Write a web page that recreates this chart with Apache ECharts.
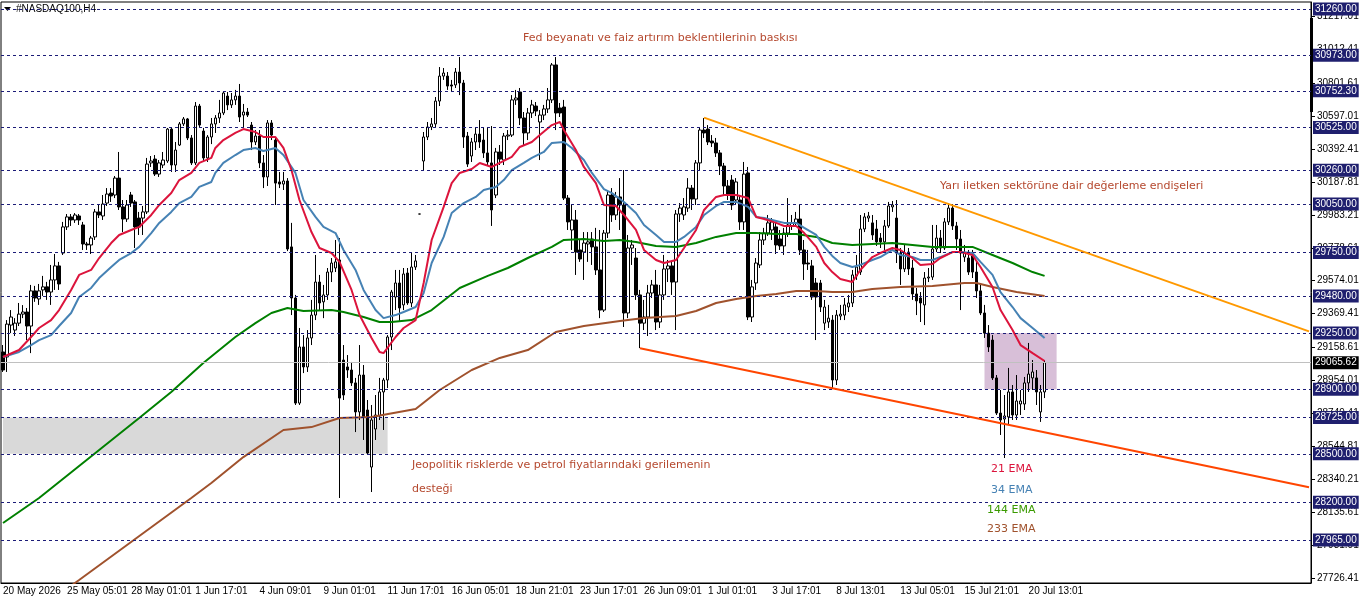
<!DOCTYPE html>
<html>
<head>
<meta charset="utf-8">
<script src="https://cdn.jsdelivr.net/npm/echarts@6/dist/echarts.min.js"></script>
<style>
html,body{margin:0;padding:0;background:#fff;}
#chart{width:1362px;height:603px;}
</style>
</head>
<body>
<div id="chart"></div>
<script>
// NASDAQ100 H4 bars: [open, close, low, high]
var candles = [
[29132,29020,29008,29175],[29101,29305,29008,29330],[29299,29349,29249,29392],[29268,29311,29231,29342],
[29311,29367,29293,29436],[29367,29380,29342,29423],[29380,29293,29206,29405],[29293,29511,29125,29548],
[29511,29467,29443,29542],[29461,29511,29424,29554],[29517,29536,29480,29604],[29536,29504,29455,29567],
[29504,29579,29424,29672],[29579,29666,29517,29740],[29666,29554,29517,29691],[29746,29908,29734,29939],
[29908,29970,29889,29988],[29970,29951,29914,29988],[29951,29982,29933,29994],[29976,29951,29920,29988],
[29920,29802,29765,29939],[29802,29796,29765,29815],[29796,29839,29740,29852],[29846,30001,29827,30019],
[30001,29982,29963,30044],[29976,30050,29951,30106],[30056,30112,30038,30149],[30118,30100,30063,30149],
[30106,30211,30087,30224],[30211,30032,30013,30373],[30032,29957,29876,30075],[29957,30044,29939,30075],
[30106,30056,30032,30125],[30063,29908,29777,30075],[29963,29908,29858,30001],[29963,30001,29858,30038],
[30001,30298,29988,30336],[30305,30317,30280,30348],[30329,30236,30224,30354],[30236,30305,30218,30323],
[30292,30323,30273,30373],[30317,30515,30305,30522],[30515,30292,30249,30522],[30292,30385,30249,30435],
[30416,30547,30410,30559],[30547,30578,30534,30590],[30578,30460,30447,30584],[30460,30305,30292,30478],
[30305,30658,30292,30683],[30658,30540,30528,30671],[30503,30336,30311,30522],[30336,30466,30311,30478],
[30466,30547,30422,30584],[30547,30584,30491,30602],[30584,30615,30553,30696],[30615,30739,30602,30751],
[30720,30665,30633,30745],[30665,30696,30646,30739],[30696,30720,30665,30758],[30720,30590,30559,30795],
[30602,30621,30528,30671],[30621,30602,30590,30646],[30540,30435,30385,30559],[30435,30472,30416,30509],
[30472,30305,30273,30509],[30305,30218,30149,30354],[30218,30553,30162,30571],[30553,30478,30447,30571],
[30447,30180,30044,30460],[30187,30174,30149,30249],[30174,30193,30137,30249],[30193,29771,29758,30211],
[29784,29467,29361,29933],[29467,28815,28803,29486],[28815,29163,28803,29281],[29163,29039,29001,29237],
[29039,29219,29008,29268],[29219,29361,29175,29455],[29361,29566,29330,29734],[29566,29436,29392,29610],
[29443,29486,29342,29548],[29486,29628,29455,29653],[29628,29684,29566,29715],[29653,29691,29628,29827],
[29703,28846,28226,29839],[29082,28865,28834,29175],[29039,29020,28971,29113],[29020,28940,28921,29070],
[28940,28760,28635,28971],[28760,28989,28710,29175],[28989,28729,28586,29051],[28772,28505,28493,28834],
[28418,28710,28263,28803],[28654,28741,28586,28865],[28735,28884,28710,28971],[28884,28958,28648,28971],
[28958,29225,28908,29237],[29225,29504,29144,29517],[29473,29560,29392,29641],[29560,29405,29318,29641],
[29424,29616,29392,29653],[29622,29436,29424,29653],[29436,29659,29411,29752],[29659,29697,29641,29734],
[29988,29988,29988,29988],[30317,30466,30255,30497],[30466,30528,30447,30559],[30528,30547,30509,30584],
[30547,30689,30528,30714],[30689,30844,30658,30900],[30844,30863,30820,30894],[30844,30782,30758,30869],
[30789,30782,30745,30820],[30789,30869,30770,30894],[30869,30801,30726,30962],[30801,30466,30398,30820],
[30472,30298,30280,30497],[30348,30435,30311,30460],[30435,30484,30385,30522],[30484,30435,30398,30571],
[30447,30367,30336,30522],[30367,30311,30292,30528],[30305,30013,29914,30534],[30106,30373,30087,30398],
[30373,30329,30292,30416],[30323,30472,30292,30491],[30472,30478,30447,30509],[30478,30696,30466,30726],
[30696,30708,30665,30758],[30745,30584,30540,30770],[30584,30491,30416,30621],[30491,30615,30447,30646],
[30615,30665,30584,30696],[30658,30627,30596,30683],[30559,30602,30323,30633],[30602,30640,30571,30665],
[30640,30696,30615,30770],[30696,30913,30677,30925],[30913,30615,30509,30962],[30646,30615,30590,30677],
[30652,30087,30075,30696],[30087,29939,29889,30106],[29889,29951,29765,30044],[29951,29752,29610,30013],
[29765,29709,29691,29827],[29752,29808,29579,29876],[29802,29815,29691,29876],[29833,29784,29672,29876],
[29784,29641,29610,29902],[29641,29392,29342,29889],[29392,29870,29380,29889],[29870,30106,29839,30137],
[30106,29982,29939,30149],[29982,30094,29951,30125],[30094,30044,29889,30211],[30044,29374,29287,30261],
[29374,29777,29342,29858],[29777,29796,29672,29827],[29715,29486,29455,29777],[29486,29311,29156,29517],
[29311,29349,29268,29455],[29349,29498,29231,29548],[29498,29548,29467,29579],[29548,29318,29268,29641],
[29318,29486,29281,29548],[29486,29647,29455,29734],[29647,29666,29566,29703],[29666,29566,29486,29691],
[29566,29988,29268,30013],[29988,30025,29939,30056],[29982,30032,29951,30087],[30025,30149,30001,30211],
[30149,30081,30013,30168],[30081,30305,30044,30323],[30305,30509,30261,30522],[30509,30491,30460,30584],
[30515,30435,30416,30540],[30441,30429,30404,30478],[30429,30367,30342,30460],[30367,30286,30230,30385],
[30286,30162,30106,30305],[30162,30106,30075,30199],[30199,30044,30013,30230],[30075,30187,30044,30211],
[30075,29939,29889,30106],[29939,30236,29889,30311],[30243,29349,29330,30280],[29349,29536,29318,29579],
[29560,29684,29517,29715],[29672,29827,29653,29876],[29827,29870,29796,29902],[29870,29933,29852,29982],
[29889,29939,29827,29963],[29908,29796,29740,29939],[29833,29790,29765,29889],[29790,29870,29734,29902],
[29870,29920,29846,30087],[29914,29933,29889,29982],[29933,29957,29908,30001],[29957,29765,29734,30044],
[29765,29678,29579,29827],[29684,29678,29641,29765],[29666,29473,29455,29703],[29560,29473,29206,29591],
[29560,29411,29380,29579],[29311,29411,29268,29455],[29318,29342,29281,29424],[29330,28958,28908,29361],
[28958,29361,28927,29392],[29355,29367,29330,29424],[29361,29424,29330,29467],[29411,29436,29380,29486],
[29436,29610,29411,29641],[29604,29659,29579,29734],[29628,29895,29610,29982],[29895,29970,29876,29994],
[29963,29976,29939,30001],[29933,29858,29827,29982],[29895,29815,29790,29951],[29839,29815,29777,29870],
[29815,29914,29765,29951],[29914,30038,29902,30063],[30032,30044,30001,30069],[29963,29746,29684,30075],
[29746,29647,29548,29777],[29647,29746,29628,29796],[29752,29647,29610,29777],[29653,29492,29455,29703],
[29492,29449,29361,29529],[29467,29436,29318,29504],[29424,29591,29299,29628],[29591,29597,29566,29653],
[29597,29771,29579,29920],[29771,29839,29752,29920],[29839,29777,29746,29889],[29777,29939,29765,29963],
[29939,30025,29920,30056],[30025,29914,29889,30050],[29914,29833,29765,29939],[29833,29746,29392,29889],
[29721,29746,29691,29796],[29715,29628,29610,29765],[29728,29628,29591,29765],[29628,29511,29467,29691],
[29511,29374,29361,29548],[29374,29249,29219,29424],[29249,29163,29132,29299],[29206,28971,28958,29237],
[28971,28753,28741,28989],[28753,28710,28617,28896],[28716,28735,28474,28865],[28729,28884,28679,29033],
[28884,28741,28710,28927],[28741,28828,28710,28989],[28809,28828,28741,28896],[28809,28940,28772,28977],
[28940,28995,28884,29188],[28971,29008,28896,29082],[28971,28884,28803,29020],[28760,28884,28698,28927],
[28884,29065.62,28846,29082]
];

// moving averages: [bar, value]
var ema21 = [[0,29101],[4,29144],[7,29225],[9,29281],[12,29330],[14,29392],[17,29517],[19,29610],[22,29641],[24,29715],
[27,29808],[29,29858],[32,29889],[34,29908],[37,29982],[39,30044],[42,30118],[44,30199],[47,30243],[49,30305],[52,30336],
[53,30398],[55,30447],[58,30491],[60,30515],[63,30497],[65,30466],[68,30466],[70,30398],[72,30261],[74,30075],[77,29876],
[79,29777],[82,29746],[84,29691],[87,29517],[89,29361],[92,29219],[94,29132],[95,29125],[98,29225],[100,29281],[103,29330],
[105,29560],[107,29827],[110,30032],[112,30180],[114,30243],[117,30267],[119,30305],[122,30280],[124,30305],[127,30342],
[129,30404],[132,30435],[134,30478],[137,30540],[139,30559],[140,30509],[143,30385],[145,30280],[148,30180],[150,30044],
[153,30038],[155,29982],[158,29889],[160,29765],[163,29703],[165,29684],[168,29703],[170,29777],[173,29889],[175,30013],
[178,30094],[180,30106],[183,30106],[186,30087],[188,29970],[190,29957],[193,29933],[195,29914],[198,29914],[200,29870],
[203,29784],[205,29684],[207,29628],[209,29585],[212,29566],[214,29641],[217,29721],[219,29746],[222,29777],[224,29765],
[227,29715],[229,29672],[232,29678],[234,29715],[237,29752],[239,29752],[242,29734],[244,29659],[247,29535],[249,29392],
[252,29268],[254,29175],[257,29125],[260,29076]];
var ema34 = [[0,29101],[4,29132],[7,29175],[9,29206],[12,29237],[14,29293],[17,29374],[19,29473],[22,29529],[24,29591],
[27,29659],[29,29703],[32,29746],[34,29784],[37,29870],[39,29933],[42,30001],[44,30056],[47,30094],[49,30156],[52,30187],
[53,30243],[55,30305],[58,30354],[60,30385],[63,30398],[65,30379],[68,30398],[70,30354],[73,30243],[75,30075],[78,29970],
[80,29908],[83,29870],[85,29765],[88,29641],[90,29517],[93,29392],[95,29342],[98,29361],[100,29380],[103,29411],
[105,29498],[107,29684],[110,29846],[112,29994],[115,30056],[118,30094],[120,30137],[123,30156],[125,30199],[127,30261],
[130,30305],[132,30336],[135,30373],[137,30429],[140,30435],[142,30398],[145,30323],[147,30243],[150,30143],[152,30118],
[155,30063],[158,29994],[160,29920],[163,29858],[165,29815],[168,29815],[170,29846],[173,29908],[175,29982],[178,30038],
[180,30063],[183,30063],[186,30032],[188,29970],[190,29963],[193,29945],[195,29933],[198,29933],[200,29902],[203,29858],
[205,29784],[207,29728],[209,29684],[212,29659],[214,29672],[217,29703],[219,29721],[222,29765],[224,29734],[227,29721],
[229,29703],[232,29703],[234,29721],[237,29752],[239,29752],[242,29746],[244,29691],[247,29610],[249,29504],[252,29411],
[254,29342],[257,29281],[260,29219]];
var ema144 = [[0,28071],[9,28226],[24,28524],[34,28722],[42,28884],[50,29063],[58,29225],[63,29311],[67,29374],[71,29405],
[75,29386],[82,29392],[85,29380],[90,29349],[94,29318],[97,29318],[102,29330],[107,29392],[114,29529],[121,29604],
[126,29653],[131,29715],[137,29784],[140,29827],[145,29833],[150,29820],[154,29827],[158,29815],[163,29790],[168,29784],
[173,29808],[178,29846],[183,29870],[188,29870],[193,29864],[198,29864],[203,29846],[207,29808],[212,29796],[217,29802],
[222,29808],[227,29796],[232,29784],[237,29784],[242,29784],[247,29734],[252,29684],[257,29628],[260,29604]];
var ema233 = [[0,27376],[19,27717],[47,28226],[52,28319],[60,28480],[70,28648],[77,28666],[84,28722],[92,28729],
[103,28778],[109,28896],[117,29020],[124,29095],[131,29144],[138,29256],[145,29293],[154,29324],[160,29343],[168,29355],
[173,29386],[178,29436],[183,29461],[188,29479],[193,29492],[198,29510],[203,29510],[207,29504],[212,29504],[217,29523],
[224,29535],[232,29541],[240,29560],[243,29560],[247,29535],[253,29504],[260,29479]];

// drawn objects
var upperTrend = [[175,30586],[326,29260]];
var lowerTrend = [[159,29155],[326,28292]];
var levels = [31260,30973,30752.30,30525,30260,30050,29750,29480,29250,28900,28725,28500,28200,27965];
var lastPrice = 29065.62;
var priceTicks = [31217.01,31012.41,30801.61,30597.01,30392.41,30187.81,29983.21,29778.61,29574.01,29369.41,
29158.61,28954.01,28749.41,28544.81,28340.21,28135.61,27931.01,27726.41];
var timeLabels = ['20 May 2026','25 May 05:01','28 May 01:01','1 Jun 17:01','4 Jun 09:01','9 Jun 01:01','11 Jun 17:01',
'16 Jun 05:01','18 Jun 21:01','23 Jun 17:01','26 Jun 09:01','1 Jul 01:01','3 Jul 17:01','8 Jul 13:01','13 Jul 05:01',
'15 Jul 21:01','20 Jul 13:01'];
var labelStep = 16;
var slots = 327;

var cats = [];
for (var i = 0; i < slots; i++) cats.push(i);

function isLabel(idx){ return idx % labelStep === 0 && idx / labelStep < timeLabels.length; }

var font = 'Liberation Sans, Arial, sans-serif';
var noteFont = '11px DejaVu Sans, sans-serif';
var noteColor = '#b5482e';

var levelLines = levels.map(function(v){
	return {yAxis: v, lineStyle: {color: '#1c1c78', type: [3, 3], width: 1},
		label: {backgroundColor: '#1f1f6e', color: '#fff'}};
});
levelLines.push({yAxis: lastPrice, lineStyle: {color: '#c0c0c0', type: 'solid', width: 1},
	label: {backgroundColor: '#000', color: '#fff'}});

var chart = echarts.init(document.getElementById('chart'));
chart.setOption({
	animation: false,
	backgroundColor: '#fff',
	grid: {left: 1, right: 51, top: 2, bottom: 20, show: true, borderColor: '#000', borderWidth: 1},
	xAxis: {
		type: 'category',
		data: cats,
		boundaryGap: true,
		axisLine: {lineStyle: {color: '#000'}},
		axisTick: {alignWithLabel: true, interval: function(idx){ return isLabel(idx); }, length: 4, lineStyle: {color: '#000'}},
		axisLabel: {
			interval: function(idx){ return isLabel(idx); },
			formatter: function(v, idx){ return isLabel(idx) ? timeLabels[idx / labelStep] : ''; },
			align: 'left', margin: 3, color: '#000', fontSize: 10, fontFamily: font
		},
		splitLine: {show: false}
	},
	yAxis: {
		type: 'value',
		position: 'right',
		min: 27698.5,
		max: 31303.6,
		scale: true,
		axisLine: {show: true, lineStyle: {color: '#000'}},
		axisTick: {show: true, customValues: priceTicks, length: 4, lineStyle: {color: '#000'}},
		axisLabel: {customValues: priceTicks, formatter: function(v){ return v.toFixed(2); },
			color: '#000', fontSize: 10, fontFamily: font, margin: 6},
		splitLine: {show: false}
	},
	graphic: [
		{type: 'polygon', shape: {points: [[4, 7], [11, 7], [7.5, 11]]}, style: {fill: '#000'}},
		{type: 'text', style: {text: '#NASDAQ100,H4', x: 16, y: 9, verticalAlign: 'middle', font: '10px ' + font, fill: '#000'}},
		{type: 'rect', shape: {x: 1310, y: 18, width: 3, height: 94}, style: {fill: '#000'}},
		{type: 'text', style: {text: 'Fed beyanatı ve faiz artırım beklentilerinin baskısı', x: 523, y: 38, verticalAlign: 'middle', font: noteFont, fill: noteColor}},
		{type: 'text', style: {text: 'Yarı iletken sektörüne dair değerleme endişeleri', x: 940, y: 186, verticalAlign: 'middle', font: noteFont, fill: noteColor}},
		{type: 'text', style: {text: 'Jeopolitik risklerde ve petrol fiyatlarındaki gerilemenin', x: 412, y: 465, verticalAlign: 'middle', font: noteFont, fill: noteColor}},
		{type: 'text', style: {text: 'desteği', x: 412, y: 489, verticalAlign: 'middle', font: noteFont, fill: noteColor}},
		{type: 'text', style: {text: '21 EMA', x: 991, y: 469, verticalAlign: 'middle', font: noteFont, fill: '#dc143c'}},
		{type: 'text', style: {text: '34 EMA', x: 991, y: 490, verticalAlign: 'middle', font: noteFont, fill: '#4682b4'}},
		{type: 'text', style: {text: '144 EMA', x: 987, y: 510, verticalAlign: 'middle', font: noteFont, fill: '#3a9a00'}},
		{type: 'text', style: {text: '233 EMA', x: 987, y: 529, verticalAlign: 'middle', font: noteFont, fill: '#a0522d'}}
	],
	series: [
		{
			type: 'line', data: [], z: 1, silent: true,
			markArea: {silent: true, data: [
				[{coord: [0, 28725], itemStyle: {color: '#d9d9d9'}}, {coord: [96, 28500]}],
				[{coord: [245, 29250], itemStyle: {color: '#d8bfd8'}}, {coord: [263, 28900]}]
			]},
			markLine: {silent: true, symbol: ['none', 'none'], animation: false,
				label: {position: 'end', distance: 2, fontSize: 10, lineHeight: 11, fontFamily: font, padding: [1, 2, 1, 2],
					formatter: function(p){ return Number(p.value).toFixed(2); }},
				data: levelLines}
		},
		{
			type: 'candlestick', data: candles, z: 3, barWidth: 3,
			itemStyle: {color: '#fff', color0: '#000', borderColor: '#000', borderColor0: '#000', borderWidth: 1}
		},
		{type: 'line', data: ema233, z: 4, symbol: 'none', lineStyle: {color: '#a0522d', width: 2}},
		{type: 'line', data: ema144, z: 4, symbol: 'none', lineStyle: {color: '#008000', width: 2}},
		{type: 'line', data: ema34, z: 4, symbol: 'none', lineStyle: {color: '#4682b4', width: 2}},
		{type: 'line', data: ema21, z: 4, symbol: 'none', lineStyle: {color: '#dc143c', width: 2}},
		{type: 'line', data: upperTrend, z: 5, symbol: 'none', lineStyle: {color: '#ff9900', width: 2}},
		{type: 'line', data: lowerTrend, z: 5, symbol: 'none', lineStyle: {color: '#ff4500', width: 2}}
	]
});
</script>
</body>
</html>
